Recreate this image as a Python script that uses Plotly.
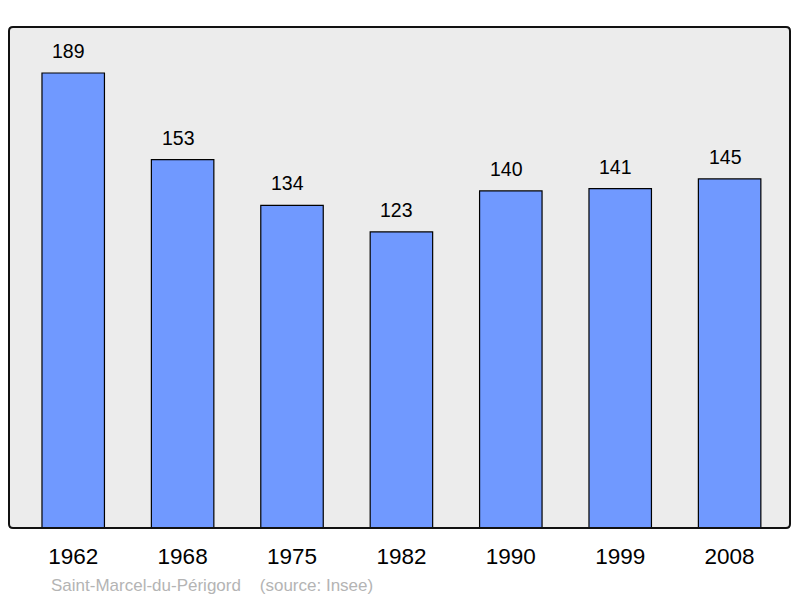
import plotly.graph_objects as go

years = ["1962", "1968", "1975", "1982", "1990", "1999", "2008"]
population = [189, 153, 134, 123, 140, 141, 145]
footer_text = "Saint-Marcel-du-Périgord    (source: Insee)"

FONT = "Liberation Sans, Arial, sans-serif"
positions = list(range(len(years)))

fig = go.Figure()
fig.add_trace(go.Bar(
    x=positions, y=population, width=0.571,
    marker=dict(color="#7099ff", line=dict(color="#000000", width=1.2)),
    hoverinfo="skip",
))

for i, v in zip(positions, population):
    fig.add_annotation(x=i, y=v, text=str(v), showarrow=False,
                       xref="x", yref="y", yanchor="bottom", yshift=9, xshift=-4.5,
                       font=dict(family=FONT, size=19.5, color="#000"))

W, H = 800, 598
L, R, T, B = 9, 10, 27, 70
pw, ph = W - L - R, H - T - B

fig.add_annotation(x=(49 - L) / pw, y=-(585 - (T + ph)) / ph, xref="paper", yref="paper",
                   text=footer_text, showarrow=False, xanchor="left", yanchor="middle",
                   font=dict(family=FONT, size=17, color="#b4b4b4"))

rx, ry = 4 / pw, 4 / ph
path = (f"M {rx},0 L {1-rx},0 Q 1,0 1,{ry} L 1,{1-ry} Q 1,1 {1-rx},1 "
        f"L {rx},1 Q 0,1 0,{1-ry} L 0,{ry} Q 0,0 {rx},0 Z")
fig.add_shape(type="path", path=path, xref="paper", yref="paper",
              line=dict(color="#111111", width=2), layer="above")

fig.update_layout(
    width=W, height=H,
    margin=dict(l=L, r=R, t=T, b=B),
    paper_bgcolor="#ffffff", plot_bgcolor="#ececec",
    showlegend=False,
    font=dict(family=FONT),
    xaxis=dict(range=[-0.587, 6.552], showgrid=False, zeroline=False,
               tickmode="array", tickvals=positions, ticktext=years,
               ticks="", showline=False, ticklabelstandoff=12,
               tickfont=dict(size=22.5, color="#000")),
    yaxis=dict(range=[0, 208.1], showgrid=False, zeroline=False, showticklabels=False,
               ticks="", showline=False),
)

fig.write_html("out.html", config={"displayModeBar": False},
               post_script="document.body.style.margin='0';document.body.style.overflow='hidden';")
